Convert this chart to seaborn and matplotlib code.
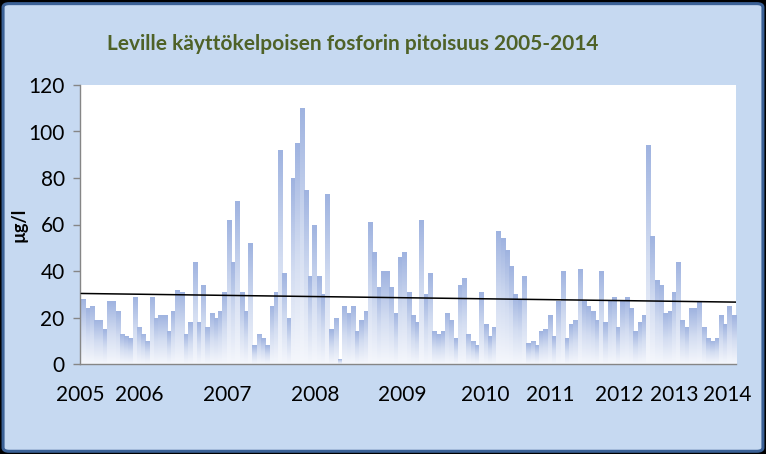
import numpy as np
import pandas as pd
import matplotlib
matplotlib.use('Agg')
import matplotlib.pyplot as plt
import seaborn as sns
from matplotlib.patches import FancyBboxPatch
from matplotlib.colors import LinearSegmentedColormap

# ---- data (µg/l, sample by sample, 2005-2014) ----
values = [28, 24, 25, 19, 19, 15, 27, 27, 23, 13, 12, 11, 29, 16, 13, 10, 29, 20, 21, 21,
          14, 23, 32, 31, 13, 18, 44, 18, 34, 16, 22, 20, 23, 31, 62, 44, 70,
          31, 23, 52, 8, 13, 11, 8, 25, 31, 92, 39, 20, 80, 95, 110, 75, 38, 60, 38, 30,
          73, 15, 20, 2, 25, 22, 25, 14, 19, 23, 61, 48, 33, 40, 40, 33, 22,
          46, 48, 31, 21, 18, 62, 30, 39, 14, 13, 14, 22, 19, 11, 34, 37, 13, 10, 8, 31,
          17, 12, 16, 57, 54, 49, 42, 30, 28, 38, 9, 10, 8, 14, 15, 21, 12, 27,
          40, 11, 17, 19, 41, 27, 25, 23, 19, 40, 18, 27, 29, 16, 27, 29, 24, 14, 18, 21,
          94, 55, 36, 34, 22, 23, 31, 44, 19, 16, 24, 24, 27, 16, 11, 10, 11, 21, 17, 25, 21]
year_labels = ['2005', '2006', '2007', '2008', '2009', '2010', '2011', '2012', '2013', '2014']
year_ticks = [-0.8, 13.1, 33.5, 54.2, 74.5, 93.8, 109.2, 125.1, 138.1, 150.5]
title = 'Leville käyttökelpoisen fosforin pitoisuus 2005-2014'
ylabel = 'µg/l'

sns.set_theme(style='white')
FONT = ['Lato', 'DejaVu Sans']
plt.rcParams['font.family'] = FONT

W, H = 766, 454
fig = plt.figure(figsize=(W / 100, H / 100), dpi=100, facecolor='black')
bg = FancyBboxPatch((0.004, 0.006), 0.992, 0.986,
                    boxstyle='round,pad=0,rounding_size=0.008',
                    transform=fig.transFigure, facecolor='#c6d9f1',
                    edgecolor='#3b6196', lw=2.2, zorder=-10)
fig.patches.append(bg)

ax = fig.add_axes([80 / W, (H - 364) / H, 656 / W, 279 / H])
ax.set_zorder(1)
ax.set_facecolor('white')

df = pd.DataFrame({'idx': np.arange(len(values)), 'value': values})
n = len(values)
sns.barplot(data=df, x='idx', y='value', width=1.0, color='#a3b5e0',
            ax=ax, native_scale=True, saturation=1)

cmap = LinearSegmentedColormap.from_list(
    'grad', [(0.0, '#f5f7fc'), (0.5, '#d2dcf1'), (1.0, '#9fb3e0')])
grad = np.linspace(0, 1, 128).reshape(-1, 1)
for p in ax.patches:
    x0, w, h = p.get_x(), p.get_width(), p.get_height()
    if h <= 0:
        continue
    p.set_facecolor('none')
    p.set_edgecolor('none')
    im = ax.imshow(grad, extent=[x0, x0 + w, 0, h], origin='lower',
                   aspect='auto', cmap=cmap, zorder=2, interpolation='bilinear')
    im.set_clip_path(p)

ax.set_xlim(-0.5, n - 0.5)
ax.set_ylim(0, 120)
sns.regplot(data=df, x='idx', y='value', scatter=False, ci=None, truncate=False,
            color='black', line_kws={'lw': 1.1, 'zorder': 5}, ax=ax)
ax.set_xlim(-0.5, n - 0.5)
ax.set_ylim(0, 120)

for s in ['top', 'right']:
    ax.spines[s].set_visible(False)
for s in ['left', 'bottom']:
    ax.spines[s].set_color('#868686')
    ax.spines[s].set_linewidth(1.0)

ax.set_yticks(np.arange(0, 121, 20))
ax.tick_params(axis='y', which='major', direction='out', length=5, width=1,
               color='#868686', labelsize=15, labelcolor='black', pad=6, left=True)
ax.set_xticks(year_ticks)
ax.set_xticklabels(year_labels)
ax.tick_params(axis='x', length=0, labelsize=15, labelcolor='black', pad=15)
for t in ax.get_yticklabels() + ax.get_xticklabels():
    t.set_family(FONT)
ax.set_xlabel('')
ax.set_ylabel('')

fig.text(19 / W, 1 - 225 / H, ylabel, rotation=90, ha='center', va='center',
         fontsize=13, fontweight='bold', color='black', family=FONT)
fig.text(353 / W, 1 - 44 / H, title, ha='center', va='center', fontsize=15,
         fontweight='bold', color='#4f6228', family=FONT)

fig.savefig('out.png', dpi=100, facecolor=fig.get_facecolor())
